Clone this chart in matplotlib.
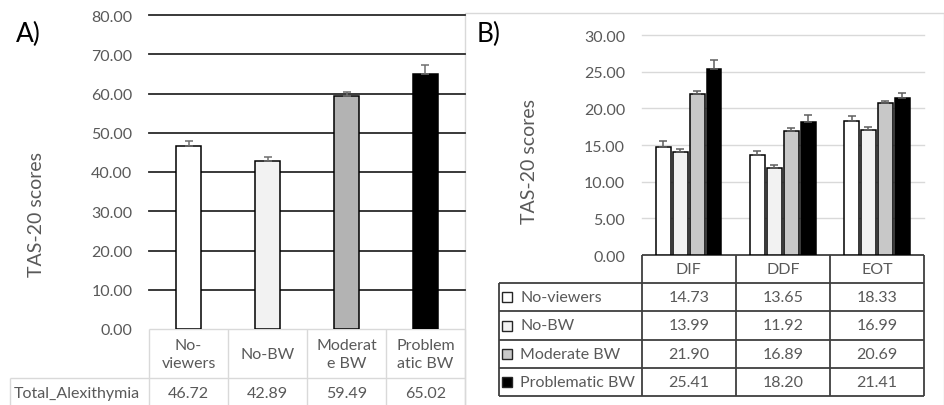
import matplotlib
matplotlib.use("Agg")
import matplotlib.pyplot as plt
from matplotlib.patches import Rectangle
import numpy as np

plt.rcParams['font.family'] = ['Lato', 'DejaVu Sans']

# ---------------- data ----------------
groups = ["No-viewers", "No-BW", "Moderate BW", "Problematic BW"]
groups_wrapped_a = ["No-\nviewers", "No-BW", "Moderat\ne BW", "Problem\natic BW"]
total_label = "Total_Alexithymia"
total_alexithymia = [46.72, 42.89, 59.49, 65.02]
total_err = [1.3, 0.85, 0.8, 2.3]

subscales = ["DIF", "DDF", "EOT"]
no_viewers = [14.73, 13.65, 18.33]
no_bw = [13.99, 11.92, 16.99]
moderate_bw = [21.90, 16.89, 20.69]
problematic_bw = [25.41, 18.20, 21.41]
no_viewers_err = [0.8, 0.57, 0.58]
no_bw_err = [0.46, 0.40, 0.40]
moderate_bw_err = [0.50, 0.38, 0.36]
problematic_bw_err = [1.20, 0.85, 0.70]

yticks_a = [0, 10, 20, 30, 40, 50, 60, 70, 80]
yticks_b = [0, 5, 10, 15, 20, 25, 30]

# ---------------- styles ----------------
colors_a = ['#ffffff', '#f2f2f2', '#b3b3b3', '#000000']
colors_b = ['#ffffff', '#f2f2f2', '#c8c8c8', '#000000']
txt = '#595959'
light = '#d9d9d9'
dark = '#3f3f3f'
fs = 11.5
fs_lab = 14

W, H = 945, 406
fig = plt.figure(figsize=(W / 100, H / 100), dpi=100)


def rect(x0, y0, x1, y1):
    return [x0 / W, 1 - y1 / H, (x1 - x0) / W, (y1 - y0) / H]


ov = fig.add_axes([0, 0, 1, 1])
ov.set_xlim(0, W)
ov.set_ylim(H, 0)
ov.axis('off')


def line(xs, ys, color, lw):
    ov.plot(xs, ys, color=color, lw=lw, solid_capstyle='butt', clip_on=False)


# panel B outer box
ov.add_patch(Rectangle((465, 14), 944 - 465, 420, facecolor='none',
                       edgecolor=light, lw=1.0))

# ---------------- panel A ----------------
axA = fig.add_axes(rect(149, 16, 465, 330))
axA.set_facecolor('none')
x4 = np.arange(len(groups))
axA.bar(x4, total_alexithymia, width=0.32, color=colors_a, edgecolor='black',
        lw=1.1, zorder=3)
axA.errorbar(x4, total_alexithymia, yerr=[np.zeros(len(x4)), total_err], fmt='none',
             ecolor='#6f6f6f', elinewidth=1.1, capsize=3.2, capthick=1.1, zorder=4)
axA.set_xlim(-0.5, len(groups) - 0.5)
axA.set_ylim(0, 80)
axA.set_yticks(yticks_a)
axA.set_yticklabels([f"{v:.2f}" for v in yticks_a])
axA.set_xticks([])
axA.yaxis.grid(True, color='#2a2a2a', lw=1.3)
axA.set_axisbelow(True)
for s in axA.spines.values():
    s.set_visible(False)
axA.tick_params(axis='y', length=0, pad=12, labelcolor=txt, labelsize=fs)
gl = axA.get_ygridlines()
gl[0].set_visible(False)
for g in gl:
    g.set_clip_on(False)

fig.text(36 / W, 1 - 215 / H, "TAS-20 scores", rotation=90, ha='center',
         va='center', color=txt, fontsize=fs_lab)
fig.text(16 / W, 1 - 34 / H, "A)", fontsize=19, ha='left', va='center', color='black')

# table A
cols_a = [149, 228, 307, 386, 465]
line([149, 465], [330, 330], light, 1.0)
line([10, 465], [379, 379], light, 1.0)
for cx in cols_a:
    line([cx, cx], [330, 410], light, 1.0)
line([10, 10], [379, 410], light, 1.0)
for i in range(len(groups)):
    cx = (cols_a[i] + cols_a[i + 1]) / 2
    ov.text(cx, 355, groups_wrapped_a[i], ha='center', va='center', color=txt,
            fontsize=fs, linespacing=1.3)
    ov.text(cx, 394, f"{total_alexithymia[i]:.2f}", ha='center', va='center',
            color=txt, fontsize=fs)
ov.text(14, 394, total_label, ha='left', va='center', color=txt, fontsize=fs)

# ---------------- panel B ----------------
axB = fig.add_axes(rect(641.7, 36, 924, 256))
axB.set_facecolor('none')
x3 = np.arange(len(subscales))
series = [no_viewers, no_bw, moderate_bw, problematic_bw]
errs = [no_viewers_err, no_bw_err, moderate_bw_err, problematic_bw_err]
pitch, bw = 0.18, 0.155
for i, (vals, er) in enumerate(zip(series, errs)):
    xp = x3 + (i - 1.5) * pitch
    axB.bar(xp, vals, width=bw, color=colors_b[i], edgecolor='black', lw=1.1, zorder=3)
    axB.errorbar(xp, vals, yerr=[np.zeros(len(xp)), er], fmt='none', ecolor='#5f5f5f',
                 elinewidth=1.1, capsize=3.2, capthick=1.1, zorder=4)
axB.set_xlim(-0.5, len(subscales) - 0.5)
axB.set_ylim(0, 30)
axB.set_yticks(yticks_b)
axB.set_yticklabels([f"{v:.2f}" for v in yticks_b])
axB.set_xticks([])
axB.yaxis.grid(True, color=light, lw=1.0)
axB.set_axisbelow(True)
for s in axB.spines.values():
    s.set_visible(False)
axB.tick_params(axis='y', length=0, pad=12, labelcolor=txt, labelsize=fs)
glb = axB.get_ygridlines()
glb[0].set_visible(False)
for g in glb:
    g.set_clip_on(False)

fig.text(530 / W, 1 - 162 / H, "TAS-20 scores", rotation=90, ha='center',
         va='center', color=txt, fontsize=fs_lab)
fig.text(477 / W, 1 - 34 / H, "B)", fontsize=19, ha='left', va='center', color='black')

# table B
cols_b = [641.7, 735.7, 830, 924]
rows_b = [256, 284, 312.3, 340.7, 369, 397.3]
line([cols_b[0], cols_b[-1]], [rows_b[0], rows_b[0]], dark, 1.3)
for ry in rows_b[1:]:
    line([499.3, cols_b[-1]], [ry, ry], dark, 1.3)
for cx in cols_b:
    line([cx, cx], [rows_b[0], rows_b[-1]], dark, 1.3)
line([499.3, 499.3], [rows_b[1], rows_b[-1]], dark, 1.3)
for j, name in enumerate(subscales):
    cx = (cols_b[j] + cols_b[j + 1]) / 2
    ov.text(cx, (rows_b[0] + rows_b[1]) / 2, name, ha='center', va='center',
            color=txt, fontsize=fs)
for i, name in enumerate(groups):
    cy = (rows_b[i + 1] + rows_b[i + 2]) / 2
    ov.add_patch(Rectangle((502, cy - 5), 10, 10, facecolor=colors_b[i],
                           edgecolor='#262626', lw=1.0))
    ov.text(520, cy, name, ha='left', va='center', color=txt, fontsize=fs)
    for j in range(len(subscales)):
        cx = (cols_b[j] + cols_b[j + 1]) / 2
        ov.text(cx, cy, f"{series[i][j]:.2f}", ha='center', va='center',
                color=txt, fontsize=fs)

fig.savefig("out.png", dpi=100)
